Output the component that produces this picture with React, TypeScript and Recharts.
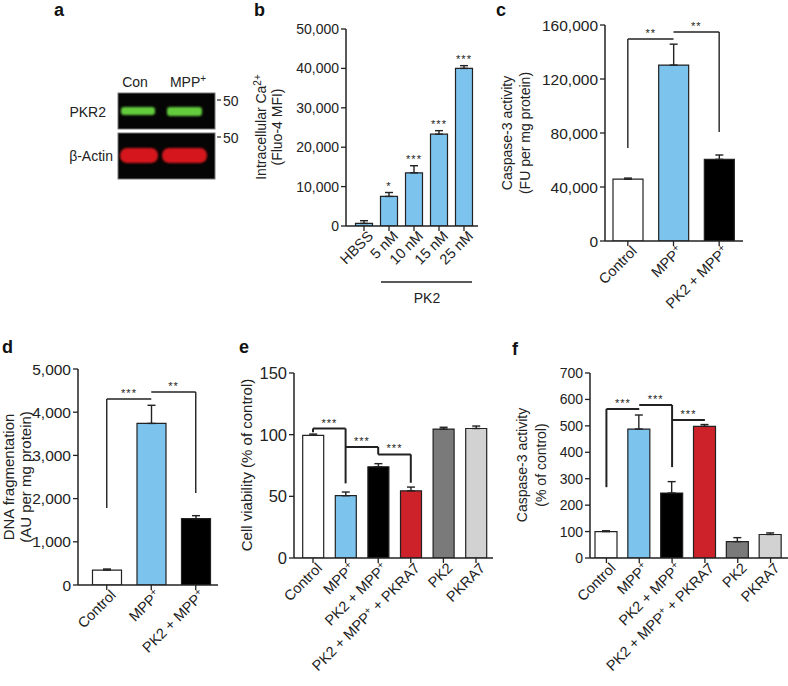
import React from 'react'
import {
  BarChart, Bar, XAxis, YAxis, ErrorBar, Cell, ReferenceLine, ReferenceDot,
} from 'recharts'

// b: intracellular Ca2+
const bCats = ['HBSS', '5 nM', '10 nM', '15 nM', '25 nM']
const bMeans = [650, 7500, 13500, 23300, 40000]
const bErrs = [700, 1000, 1800, 900, 700]
const bStars = ['', '*', '***', '***', '***']
const bTicks = [0, 10000, 20000, 30000, 40000, 50000]

// c: caspase-3 (FU per mg protein)
const cCats = ['Control', 'MPP+', 'PK2 + MPP+']
const cMeans = [45800, 130300, 60500]
const cErrs = [800, 15500, 3200]
const cTicks = [0, 40000, 80000, 120000, 160000]
const cBrackets = [
  { a: 'Control', b: 'MPP+', y: 149600, la: 68900, lb: null, label: '**' },
  { a: 'MPP+', b: 'PK2 + MPP+', y: 154800, la: null, lb: 80700, label: '**' },
]

// d: DNA fragmentation
const dMeans = [345, 3740, 1535]
const dErrs = [25, 420, 70]
const dTicks = [0, 1000, 2000, 3000, 4000, 5000]
const dBrackets = [
  { a: 'Control', b: 'MPP+', y: 4306, la: 1782, lb: null, label: '***' },
  { a: 'MPP+', b: 'PK2 + MPP+', y: 4468, la: null, lb: 2130, label: '**' },
]

// e: cell viability
const eCats = ['Control', 'MPP+', 'PK2 + MPP+', 'PK2 + MPP+ + PKRA7', 'PK2', 'PKRA7']
const eMeans = [99.5, 50.5, 74, 54.5, 104.5, 105]
const eErrs = [1, 3, 2.5, 3, 1.5, 2]
const eTicks = [0, 50, 100, 150]
const eBrackets = [
  { a: 'Control', b: 'MPP+', y: 105, la: 102, lb: 60.5, label: '***' },
  { a: 'MPP+', b: 'PK2 + MPP+', y: 90, la: null, lb: 84, label: '***' },
  { a: 'PK2 + MPP+', b: 'PK2 + MPP+ + PKRA7', y: 84, la: null, lb: 61, label: '***' },
]

// f: caspase-3 (% of control)
const fMeans = [100, 488, 246, 498, 62, 89]
const fErrs = [3, 53, 43, 7, 15, 6]
const fTicks = [0, 100, 200, 300, 400, 500, 600, 700]
const fBrackets = [
  { a: 'Control', b: 'MPP+', y: 564, la: 268, lb: null, label: '***' },
  { a: 'MPP+', b: 'PK2 + MPP+', y: 579, la: null, lb: 344, label: '***' },
  { a: 'PK2 + MPP+', b: 'PK2 + MPP+ + PKRA7', y: 522, la: null, lb: null, label: '***' },
]

const BLUE = '#7CC3EE'
const RED = '#CD2229'
const INK = '#222222'
const threeColors = ['#FFFFFF', BLUE, '#000000']
const sixColors = ['#FFFFFF', BLUE, '#000000', RED, '#7A7A7A', '#D2D2D2']
const FONT = '"Liberation Sans", Arial, Helvetica, sans-serif'

// "MPP+" -> MPP with a superscript plus
function rich(label: string) {
  const parts = label.split('MPP+')
  const out: React.ReactNode[] = []
  parts.forEach((p, i) => {
    if (i > 0) {
      out.push(<tspan key={'m' + i} dy={i > 1 ? 5 : 0}>MPP</tspan>)
      out.push(<tspan key={'s' + i} dy={-5} fontSize={10}>+</tspan>)
    }
    if (p) out.push(<tspan key={'t' + i} dy={i > 0 ? 5 : 0}>{p}</tspan>)
  })
  return out
}

function RotTick(props: any) {
  const { x, y, payload } = props
  return (
    <g transform={`translate(${x + 10},${y + 4})`}>
      <text transform="rotate(-45)" textAnchor="end" fontSize={14.5} fill={INK} dy="0.35em">
        {rich(String(payload.value))}
      </text>
    </g>
  )
}

const fmt = (v: number) => v.toLocaleString('en-US')

interface PanelProps {
  axisX: number
  plotTop: number
  plotBottom: number
  plotRight: number
  cats: string[]
  means: number[]
  errs: number[]
  colors: string[]
  ticks: number[]
  barSize: number
  padL: number
  padR: number
  brackets?: { a: string; b: string; y: number; la: number | null; lb: number | null; label: string }[]
  stars?: string[]
  lineW?: number
  tickFs?: number
}

function BarPanel(p: PanelProps) {
  const yW = 70
  const mTop = 30
  const xH = 130
  const left = p.axisX - yW
  const top = p.plotTop - mTop
  const width = p.plotRight - left
  const height = mTop + (p.plotBottom - p.plotTop) + xH
  const data = p.cats.map((c, i) => ({ name: c, v: p.means[i], e: [0, p.errs[i]] }))
  const lw = p.lineW ?? 1.6
  const lines: React.ReactNode[] = []
  ;(p.brackets || []).forEach((b, i) => {
    lines.push(
      <ReferenceLine key={'h' + i} ifOverflow="visible" stroke={INK} strokeWidth={lw}
        segment={[{ x: b.a, y: b.y }, { x: b.b, y: b.y }]}
        label={{ value: b.label, position: 'top', offset: 2, fontSize: 11, fill: INK, letterSpacing: 1 }} />
    )
    if (b.la != null) lines.push(
      <ReferenceLine key={'l' + i} ifOverflow="visible" stroke={INK} strokeWidth={lw}
        segment={[{ x: b.a, y: b.y }, { x: b.a, y: b.la }]} />
    )
    if (b.lb != null) lines.push(
      <ReferenceLine key={'r' + i} ifOverflow="visible" stroke={INK} strokeWidth={lw}
        segment={[{ x: b.b, y: b.y }, { x: b.b, y: b.lb }]} />
    )
  })
  const dots = (p.stars || []).map((s, i) => s ? (
    <ReferenceDot key={'d' + i} x={p.cats[i]} y={p.means[i] + p.errs[i]} r={0} fill="none" stroke="none"
      ifOverflow="visible"
      label={{ value: s, position: 'top', offset: 3, fontSize: 11, fill: INK, letterSpacing: 1 }} />
  ) : null)
  return (
    <div style={{ position: 'absolute', left, top }}>
      <BarChart width={width} height={height} data={data}
        margin={{ top: mTop, right: 0, bottom: 0, left: 0 }}>
        <XAxis dataKey="name" height={xH} interval={0} tick={<RotTick />} tickSize={5}
          tickLine={{ stroke: INK, strokeWidth: 1.3 }} axisLine={{ stroke: INK, strokeWidth: 1.5 }}
          padding={{ left: p.padL, right: p.padR }} />
        <YAxis width={yW} domain={[p.ticks[0], p.ticks[p.ticks.length - 1]]} ticks={p.ticks}
          tickFormatter={fmt} tick={{ fontSize: p.tickFs ?? 14, fill: INK }} tickSize={5} tickMargin={2}
          tickLine={{ stroke: INK, strokeWidth: 1.3 }} axisLine={{ stroke: INK, strokeWidth: 1.5 }}
          allowDataOverflow />
        <Bar dataKey="v" barSize={p.barSize} stroke={INK} strokeWidth={1.2} isAnimationActive={false}>
          {data.map((d, i) => <Cell key={d.name} fill={p.colors[i]} />)}
          <ErrorBar dataKey="e" width={4} stroke={INK} strokeWidth={1.4} direction="y" />
        </Bar>
        {lines}
        {dots}
      </BarChart>
    </div>
  )
}

function VTitle({ x, cy, children, fs = 14 }: { x: number; cy: number; children: React.ReactNode; fs?: number }) {
  return (
    <text transform={`translate(${x},${cy}) rotate(-90)`} textAnchor="middle" dy="0.35em"
      fontSize={fs} fill={INK}>{children}</text>
  )
}

function Letter({ x, y, t }: { x: number; y: number; t: string }) {
  return <text x={x} y={y} fontSize={18} fontWeight="bold" fill="#111">{t}</text>
}

function Overlay() {
  return (
    <svg width={788} height={686} style={{ position: 'absolute', left: 0, top: 0, pointerEvents: 'none' }}
      fontFamily={FONT}>
      <defs>
        <filter id="soft" x="-20%" y="-50%" width="140%" height="200%">
          <feGaussianBlur stdDeviation="0.8" />
        </filter>
      </defs>
      <Letter x={54} y={16} t="a" />
      <Letter x={254} y={16} t="b" />
      <Letter x={496} y={16} t="c" />
      <Letter x={2} y={353} t="d" />
      <Letter x={239} y={353} t="e" />
      <Letter x={512} y={355} t="f" />

      {/* western blot */}
      <text x={135} y={87} textAnchor="middle" fontSize={14} fill={INK}>Con</text>
      <text x={188} y={87} textAnchor="middle" fontSize={14} fill={INK}>
        MPP<tspan dy={-5} fontSize={10}>+</tspan>
      </text>
      <rect x={118} y={93} width={97} height={36} fill="#050505" stroke="#777" strokeWidth={1} />
      <rect x={118} y={133} width={97} height={46} fill="#050505" stroke="#777" strokeWidth={1} />
      <rect x={121} y={107} width={34} height={8} rx={3} fill="#63CC3C" filter="url(#soft)" />
      <rect x={167} y={107} width={35} height={9} rx={3} fill="#63CC3C" filter="url(#soft)" />
      <rect x={120} y={148} width={38} height={15} rx={7} fill="#D5161C" filter="url(#soft)" />
      <rect x={162} y={148} width={45} height={15} rx={7} fill="#D5161C" filter="url(#soft)" />
      <text x={106} y={117} textAnchor="end" fontSize={14} fill={INK}>PKR2</text>
      <text x={113} y={161} textAnchor="end" fontSize={14} fill={INK}>β-Actin</text>
      <line x1={217} x2={221} y1={100} y2={100} stroke={INK} strokeWidth={1.2} />
      <text x={223} y={106} fontSize={14} fill={INK}>50</text>
      <line x1={217} x2={221} y1={137} y2={137} stroke={INK} strokeWidth={1.2} />
      <text x={223} y={143} fontSize={14} fill={INK}>50</text>

      {/* axis titles */}
      <VTitle x={261} cy={127}>Intracellular Ca<tspan dy={-5} fontSize={10}>2+</tspan></VTitle>
      <VTitle x={277} cy={127}>(Fluo-4 MFI)</VTitle>
      <VTitle x={507} cy={133}>Caspase-3 activity</VTitle>
      <VTitle x={525} cy={133}>(FU per mg protein)</VTitle>
      <VTitle x={9} cy={477} fs={15}>DNA fragmentation</VTitle>
      <VTitle x={26} cy={477} fs={15}>(AU per mg protein)</VTitle>
      <VTitle x={247} cy={465} fs={15}>Cell viability (% of control)</VTitle>
      <VTitle x={522} cy={465}>Caspase-3 activity</VTitle>
      <VTitle x={541} cy={465}>(% of control)</VTitle>

      {/* PK2 group bar under panel b */}
      <line x1={381} x2={472} y1={282} y2={282} stroke={INK} strokeWidth={1.6} />
      <text x={427} y={303} textAnchor="middle" fontSize={14} fill={INK}>PK2</text>
    </svg>
  )
}

export default function App() {
  return (
    <div style={{ position: 'absolute', left: 0, top: 0, width: 788, height: 686, background: '#fff',
      overflow: 'hidden', fontFamily: FONT }}>
      <BarPanel axisX={346} plotTop={29} plotBottom={226} plotRight={478}
        cats={bCats} means={bMeans} errs={bErrs} colors={bCats.map(() => BLUE)} ticks={bTicks}
        barSize={17} padL={5.5} padR={1.5} stars={bStars} />
      <BarPanel axisX={605} plotTop={25} plotBottom={241} plotRight={743}
        cats={cCats} means={cMeans} errs={cErrs} colors={threeColors} ticks={cTicks}
        barSize={30} padL={0} padR={1} brackets={cBrackets} lineW={1.4} tickFs={15.5} />
      <BarPanel axisX={78} plotTop={369} plotBottom={585} plotRight={218}
        cats={cCats} means={dMeans} errs={dErrs} colors={threeColors} ticks={dTicks}
        barSize={29} padL={6.5} padR={0} brackets={dBrackets} lineW={1.4} tickFs={15.5} />
      <BarPanel axisX={294} plotTop={373} plotBottom={558} plotRight={493}
        cats={eCats} means={eMeans} errs={eErrs} colors={sixColors} ticks={eTicks}
        barSize={21} padL={2.7} padR={0.7} brackets={eBrackets} lineW={2} tickFs={16.5} />
      <BarPanel axisX={590} plotTop={373} plotBottom={558} plotRight={788}
        cats={eCats} means={fMeans} errs={fErrs} colors={sixColors} ticks={fTicks}
        barSize={22} padL={0} padR={1} brackets={fBrackets} lineW={2} />
      <Overlay />
    </div>
  )
}
